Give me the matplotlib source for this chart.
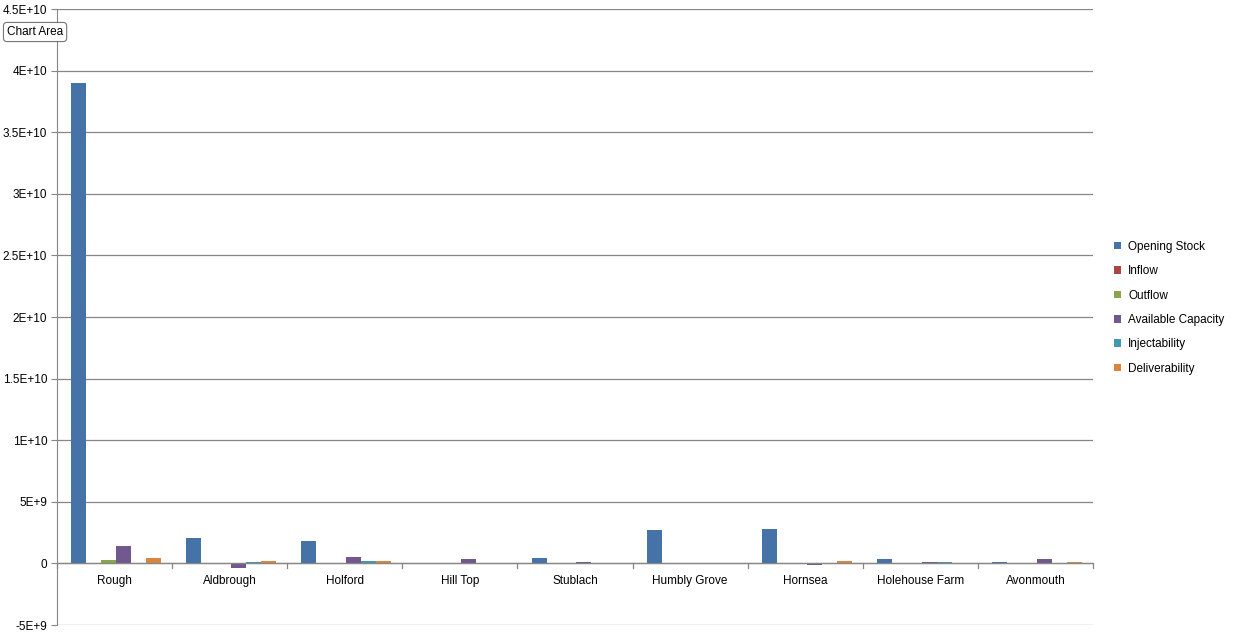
import matplotlib
matplotlib.use("Agg")
import matplotlib.pyplot as plt
import numpy as np
plt.rcParams['font.family'] = ['Liberation Sans', 'DejaVu Sans']

categories = ["Rough", "Aldbrough", "Holford", "Hill Top", "Stublach", "Humbly Grove", "Hornsea", "Holehouse Farm", "Avonmouth"]
series = ["Opening Stock", "Inflow", "Outflow", "Available Capacity", "Injectability", "Deliverability"]
opening = [39.0e9, 2.1e9, 1.8e9, 0, 0.4e9, 2.7e9, 2.8e9, 0.35e9, 0.08e9]
inflow = [0, 0, 0, 0, 0, 0, 0, 0, 0]
outflow = [0.25e9, 0, 0, 0, 0, 0, 0, 0, 0]
available = [1.4e9, -0.4e9, 0.5e9, 0.35e9, 0.1e9, 0, -0.1e9, 0.08e9, 0.35e9]
inject = [0, 0.1e9, 0.2e9, 0, 0, 0, 0, 0.08e9, 0]
deliver = [0.4e9, 0.2e9, 0.2e9, 0, 0, 0, 0.2e9, 0, 0.08e9]
colors = ["#4572A7", "#AA4643", "#89A54E", "#71588F", "#4198AF", "#DB843D"]

data = [opening, inflow, outflow, available, inject, deliver]
fig = plt.figure(figsize=(12.33, 6.34), dpi=100)
ax = fig.add_axes([57/1233, 9/634, (1093-57)/1233, (625-9)/634])
x = np.arange(len(categories))
w = 0.13
for i, (s, d, c) in enumerate(zip(series, data, colors)):
    ax.bar(x - 2.4*w + i*w, d, w, color=c, label=s)
ax.set_xlim(-0.5, len(categories)-0.5)
ax.set_ylim(-5e9, 4.5e10)
ticks = np.arange(-5e9, 4.6e10, 5e9)
ax.set_yticks(ticks)
def fmt(v):
    if v == 0: return "0"
    s = "%.1E" % v
    m, e = s.split("E")
    m = m.rstrip("0").rstrip(".")
    return "%sE+%d" % (m, int(e)) if int(e) >= 0 else "%sE%d" % (m, int(e))
ax.set_yticklabels([fmt(t) for t in ticks], fontsize=8.5)
ax.yaxis.grid(True, color="#868686", lw=0.9)
ax.set_axisbelow(True)
ax.set_xticks([])
for xi, c in zip(x, categories):
    ax.text(xi, -1.4e9, c, ha="center", va="center", fontsize=8.5)
ax.tick_params(axis='y', length=4, color="#868686", pad=3)
for t in np.arange(-0.5, len(categories), 1):
    ax.plot([t, t], [0, -4e8], color="#868686", lw=0.9, clip_on=False)
ax.axhline(0, color="#868686", lw=0.9)
for sp in ["top", "right", "bottom"]:
    ax.spines[sp].set_visible(False)
ax.spines["left"].set_color("#868686")
ax.legend(loc="center left", bbox_to_anchor=(1.01, 0.515), frameon=False, fontsize=8.5,
          handlelength=0.6, handleheight=0.6, labelspacing=1.05, handletextpad=0.6)
fig.text(7/1233, 1-32/634, "Chart Area", fontsize=8.5, va="center", ha="left",
         bbox=dict(boxstyle="round,pad=0.3", fc="white", ec="#767676", lw=0.8))
fig.savefig("out.png", dpi=100)
